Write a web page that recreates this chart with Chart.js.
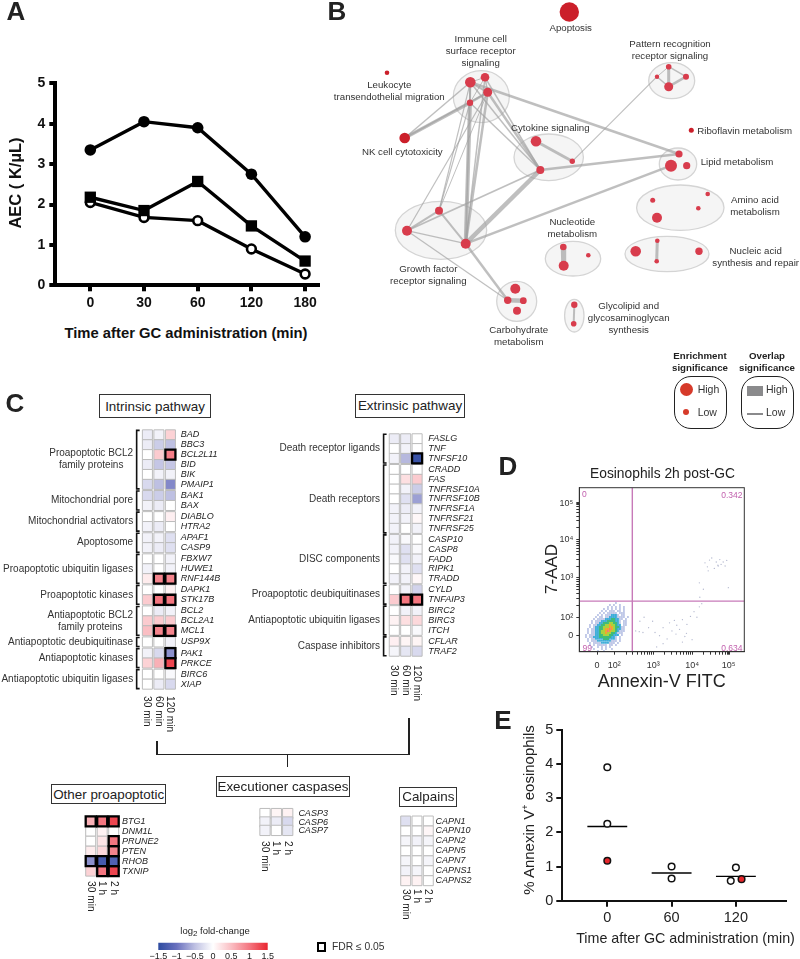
<!DOCTYPE html>
<html><head><meta charset="utf-8">
<script src="https://cdn.jsdelivr.net/npm/chart.js@4/dist/chart.umd.min.js"></script>
<style>
html,body{margin:0;padding:0;background:#fff;width:800px;height:959px;overflow:hidden;font-family:"Liberation Sans",Arial,sans-serif}
canvas{position:absolute;pointer-events:none}
.t{position:absolute;white-space:nowrap;line-height:1;color:#333}
.box{position:absolute;box-sizing:border-box;background:#fff;border:1.5px solid #333;display:flex;align-items:center;justify-content:center;font-size:13.4px;color:#222;white-space:nowrap}
.ln{position:absolute;background:#222}
</style></head><body>
<script>
// ---------- Panel A ----------
const aTimes=['0','30','60','120','180'];
const aecFilled=[3.35,4.05,3.9,2.75,1.2];
const aecSquare=[2.18,1.85,2.57,1.47,0.6];
const aecOpen=[2.05,1.68,1.6,0.9,0.28];
// ---------- Panel B ----------
const nodeX=[569.3,387,470.3,485,487.7,470,404.7,668.7,657,686,668.7,691.3,679,671,686.7,536,572.3,540.3,439,407,465.7,707.7,652.7,698.3,657,563.3,588.3,563.7,635.7,657.3,656.7,699,515.3,507.7,523.3,517,574.3,573.7];
const nodeY=[12,72.7,82.3,77.3,92.3,102.7,138,66.7,76.7,76.7,86.7,130.3,154,165.7,165.7,141.3,161.3,170,210.7,230.7,243.7,194,200.3,208.3,217.7,247,255.3,265.7,251.3,240.7,261.3,251.3,288.7,300.3,300.7,310.7,304.7,323.7];
const nodeR=[9.7,2.3,5.3,4.3,4.5,3.2,5.3,2.8,2.2,3,4.5,2.5,3.6,6,3.6,5.3,2.7,4,4,5,5,2.3,2.5,2.3,5,3.3,2.3,5,5.3,2.3,2.3,3.7,5,3.7,3.4,4,3.2,2.8];
const darkNodes=[0,1,6,11];
const edgeFrom=[2,2,2,4,3,3,6,6,6,2,2,4,5,3,5,2,4,3,2,4,5,4,15,16,17,17,17,20,18,18,19,20,19,33,25,29,36,7,7,7,8,9];
const edgeTo=[3,4,5,5,4,5,5,4,2,12,17,17,17,17,20,20,20,20,18,18,18,19,16,8,12,20,19,13,19,20,20,33,33,34,27,30,37,8,9,10,10,10];
const edgeW=[1,2,2,2.5,1.5,1,3.5,1.5,1.5,2.5,1.5,2.5,1.5,1.5,4,1.5,2.5,1.5,1.2,1,1.2,1.2,3,1.2,2.5,4.5,1.8,2.5,2,2,1.2,2.5,1.2,4.5,5,3,2,1,1.5,3,1.5,2.5];
const clusterX=[481.3,671.7,548.7,678,441,680.3,573,667,516.7,574.3];
const clusterY=[96.7,80.7,157.3,164,230.3,207.7,258.7,254,301.3,315.7];
const clusterRx=[28,23,34.7,18.7,45.7,43.7,27.7,42,20,9.7];
const clusterRy=[26,18,23.3,16,29,22.7,17.3,17.7,20,16.3];
// ---------- Panel C ----------
const intrinsicGenes=['BAD','BBC3','BCL2L11','BID','BIK','PMAIP1','BAK1','BAX','DIABLO','HTRA2','APAF1','CASP9','FBXW7','HUWE1','RNF144B','DAPK1','STK17B','BCL2','BCL2A1','MCL1','USP9X','PAK1','PRKCE','BIRC6','XIAP'];
const intrinsicSizes=[6,2,2,2,3,2,3,1,2,2];
const intrinsicGroups=[['Proapoptotic BCL2','family proteins'],['Mitochondrial pore'],['Mitochondrial activators'],['Apoptosome'],['Proapoptotic ubiquitin ligases'],['Proapoptotic kinases'],['Antiapoptotic BCL2','family proteins'],['Antiapoptotic deubiquitinase'],['Antiapoptotic kinases'],['Antiapoptotic ubiquitin ligases']];
const intrinsic30=[-.15,-.15,0,-.15,0,-.3,-.3,-.1,0,-.1,-.1,-.1,0,-.1,.15,0,.4,0,.4,.5,0,-.1,.35,0,0];
const intrinsic60=[-.1,-.4,.4,-.45,-.1,-.5,-.4,-.15,0,-.15,-.1,-.15,0,0,.9,0,1,-.15,.4,.9,0,-.3,.6,0,-.15];
const intrinsic120=[.35,-.5,.95,-.45,-.1,-.85,-.5,0,.12,0,-.25,-.25,-.1,-.1,.9,.1,1,-.1,.4,.9,-.1,-.8,1.3,-.05,-.3];
const intrinsicFDR=[['BCL2L11',2],['RNF144B',1],['RNF144B',2],['STK17B',1],['STK17B',2],['MCL1',1],['MCL1',2],['PAK1',2],['PRKCE',2]];
const extrinsicGenes=['FASLG','TNF','TNFSF10','CRADD','FAS','TNFRSF10A','TNFRSF10B','TNFRSF1A','TNFRSF21','TNFRSF25','CASP10','CASP8','FADD','RIPK1','TRADD','CYLD','TNFAIP3','BIRC2','BIRC3','ITCH','CFLAR','TRAF2'];
const extrinsicSizes=[3,7,5,2,3,2];
const extrinsicGroups=[['Death receptor ligands'],['Death receptors'],['DISC components'],['Proapoptotic deubiquitinases'],['Antiapoptotic ubiquitin ligases'],['Caspase inhibitors']];
const extrinsic30=[-.15,0,-.1,0,0,0,0,-.1,-.1,-.1,-.1,-.1,-.05,0,-.1,0,.4,0,.1,0,.12,-.08];
const extrinsic60=[-.15,-.1,-.55,0,.25,-.1,-.25,-.15,-.1,0,-.05,-.25,-.25,-.1,-.1,-.1,1,-.1,.25,0,.08,-.2];
const extrinsic120=[0,0,-1.4,0,.4,-.4,-.7,-.1,.06,-.1,0,-.05,-.1,-.25,.06,-.35,1,-.1,.3,-.05,.08,-.3];
const extrinsicFDR=[['TNFSF10',2],['TNFAIP3',1],['TNFAIP3',2]];
const otherGenes=['BTG1','DNM1L','PRUNE2','PTEN','RHOB','TXNIP'];
const other30=[.6,0,0,.15,-.8,.35];
const other1h=[1,.1,.2,.3,-1.3,1];
const other2h=[1.3,0,1,.9,-1.2,1.3];
const otherFDR=[['BTG1',0],['BTG1',1],['BTG1',2],['PRUNE2',2],['PTEN',2],['RHOB',0],['RHOB',1],['RHOB',2],['TXNIP',1],['TXNIP',2]];
const execGenes=['CASP3','CASP6','CASP7'];
const exec30=[0,-.1,-.1];
const exec1h=[.08,-.15,0];
const exec2h=[.1,-.3,-.2];
const calpainGenes=['CAPN1','CAPN10','CAPN2','CAPN5','CAPN7','CAPNS1','CAPNS2'];
const calpain30=[-.25,0,-.08,0,-.08,-.1,.1];
const calpain1h=[0,0,-.1,0,0,-.08,.1];
const calpain2h=[0,.07,-.08,0,-.08,0,0];
const minLabels=['30 min','60 min','120 min'];
const hourLabels=['30 min','1 h','2 h'];
const colorbarTicks=[-1.5,-1,-.5,0,.5,1,1.5];
// ---------- Panel D (axis channels 0-1024) ----------
const flowXTicks=[110,217,459,701,927];
const flowYTicks=[104,212,462,701,926];
const flowTickLabels=['0','10²','10³','10⁴','10⁵'];
const flowGateX=329, flowGateY=316;
const flowDensity=[
"...............1.....",
"............1.1..1...",
"...........1.1.1.1.1.",
".........1.1.1.1.1.1.",
"........1.1.111.11.1.",
".......1.1.11111.111.",
"......1.1.1112221.11.",
".....1.11.1122221111.1",
"....1.1111222332211.1",
"...1.1112223333221.11",
"...1.1122333443321.11",
"..1.11223344544322.11",
"..1.1223344455433211.",
".1.11223345565432211.",
".1.11223445654432111.",
".1.1122344544332111..",
"1.111223344433222.1..",
"1.11222333333221.1...",
".1.1122223332221.1...",
".1.1112222222111.1...",
"..1.11112222111.1....",
"..1.1.11111.11.1.....",
"...1..1.1.1.1........",
"....1...1.1..1.......",
"......1..1..........."];
const flowSparseX=[780,795,808,822,838,850,862,872,880,893,905,915,925,800,860,745,770,748,760,
 376,402,430,455,470,498,520,545,560,575,590,605,622,640,655,668,690,712,730,745,350,372,395,600,640,665,700,520,480];
const flowSparseY=[555,530,572,585,520,560,535,575,545,560,535,570,400,505,540,430,390,340,300,
 190,215,150,190,120,100,150,80,180,130,195,165,140,200,95,170,220,250,215,280,130,125,120,110,60,115,75,50,30];
// ---------- Panel E ----------
const eTimes=['0','60','120'];
const eOpenX=[0,0,1,1,2,1.92];
const eOpenY=[3.9,2.25,1.0,.65,.97,.58];
const eRedX=[0,2.088];
const eRedY=[1.17,.63];
const eMedian=[2.17,.81,.71];

// ---------- helpers ----------
const FF='"Liberation Sans",Arial,sans-serif';
Chart.defaults.font.family=FF;
Chart.defaults.animation=false;
Chart.defaults.responsive=false;
Chart.defaults.events=[];
Chart.defaults.plugins.legend.display=false;
Chart.defaults.plugins.tooltip.enabled=false;
function T(html,x,y,o={}){
  const d=document.createElement('div');d.className='t';d.innerHTML=html;
  const s=d.style;s.left=x+'px';s.top=y+'px';s.fontSize=(o.s||10)+'px';
  if(o.b)s.fontWeight='bold';if(o.i)s.fontStyle='italic';if(o.c)s.color=o.c;
  const ax=o.a==='l'?'0':o.a==='r'?'-100%':'-50%';
  s.transform=`translate(${ax},-50%)`+(o.rot?` rotate(${o.rot}deg)`:'');
  document.body.appendChild(d);return d;
}
function Down(text,x,y,s){ // reads top to bottom, starts at y, centred on x
  const d=document.createElement('div');d.className='t';d.textContent=text;
  const st=d.style;st.left=x+'px';st.top=y+'px';st.fontSize=s+'px';st.transformOrigin='0 0';
  st.transform='rotate(90deg) translateY(-50%)';st.color='#222';document.body.appendChild(d);
}
function Box(text,l,t,r,b){const d=document.createElement('div');d.className='box';d.textContent=text;
  Object.assign(d.style,{left:l+'px',top:t+'px',width:(r-l)+'px',height:(b-t)+'px'});document.body.appendChild(d);}
function Ln(l,t,w,h){const d=document.createElement('div');d.className='ln';
  Object.assign(d.style,{left:l+'px',top:t+'px',width:w+'px',height:h+'px'});document.body.appendChild(d);}
// Places a chart so its chart area is exactly `plot` in page pixels.
function mount(rect,plot,cfg,occ={}){
  const c=document.createElement('canvas');c.width=rect.r-rect.l;c.height=rect.b-rect.t;
  c.style.left=rect.l+'px';c.style.top=rect.t+'px';document.body.appendChild(c);
  cfg.options=cfg.options||{};
  cfg.options.layout={autoPadding:false,padding:{left:occ.left?0:plot.l-rect.l,right:occ.right?0:rect.r-plot.r,top:plot.t-rect.t,bottom:occ.bottom?0:rect.b-plot.b}};
  const sc=cfg.options.scales;
  if(occ.left)sc.y.afterFit=s=>{s.width=plot.l-rect.l};
  if(occ.right)sc.y.afterFit=s=>{s.width=rect.r-plot.r};
  if(occ.bottom)sc.x.afterFit=s=>{s.height=rect.b-plot.b};
  return new Chart(c,cfg);
}
const pts=(xs,ys)=>xs.map((x,i)=>({x,y:ys[i]}));
const fixedTicks=v=>a=>{a.ticks=v.map(value=>({value}))};

// ---------- Panel A ----------
{
  const x0=90.3,dx=53.7,L=55.3,R=320,idx=aTimes.map((_,i)=>i);
  const ds=(data,style,extra)=>Object.assign({data:pts(idx,data),showLine:true,borderColor:'#000',borderWidth:3.4,pointStyle:style,pointBorderColor:'#000',clip:false},extra);
  mount({l:0,t:70,r:320,b:315},{l:L,t:83.3,r:R,b:285.3},{type:'scatter',data:{datasets:[
    ds(aecSquare,'rect',{pointRadius:8,pointBackgroundColor:'#000',pointBorderWidth:0}),
    ds(aecOpen,'circle',{pointRadius:4.4,pointBackgroundColor:'#fff',pointBorderWidth:2.6}),
    ds(aecFilled,'circle',{pointRadius:5.8,pointBackgroundColor:'#000',pointBorderWidth:0})
  ]},options:{scales:{
    x:{type:'linear',min:(L-x0)/dx,max:(R-x0)/dx,afterBuildTicks:fixedTicks(idx),
       border:{color:'#000',width:4},grid:{drawOnChartArea:false,color:'#000',lineWidth:4,tickLength:6},
       ticks:{callback:v=>aTimes[v],color:'#111',padding:3,font:{size:14,weight:'bold'},maxRotation:0,autoSkip:false}},
    y:{min:0,max:5,afterBuildTicks:fixedTicks([0,1,2,3,4,5]),
       border:{color:'#000',width:4},grid:{drawOnChartArea:false,color:'#000',lineWidth:4,tickLength:6},
       ticks:{color:'#111',padding:4,font:{size:14,weight:'bold'}}}
  }}},{left:true,bottom:true});
  T('AEC ( K/µL)',15,183,{s:16.5,b:1,rot:-90,c:'#111'});
  T('Time after GC administration (min)',186,333,{s:14.8,b:1,c:'#111'});
}

// ---------- Panel B ----------
{
  const rect={l:320,t:0,r:800,b:345};
  const clusters={id:'clusters',beforeDatasetsDraw(ch){
    const {ctx,scales:{x,y}}=ch;ctx.save();ctx.fillStyle='#f5f5f5';ctx.strokeStyle='#d4d4d4';ctx.lineWidth=1.3;
    clusterX.forEach((cx,i)=>{ctx.beginPath();
      ctx.ellipse(x.getPixelForValue(cx),y.getPixelForValue(clusterY[i]),clusterRx[i],clusterRy[i],0,0,Math.PI*2);ctx.fill();ctx.stroke();});
    ctx.restore();}};
  const edges=edgeFrom.map((f,i)=>({data:[{x:nodeX[f],y:nodeY[f]},{x:nodeX[edgeTo[i]],y:nodeY[edgeTo[i]]}],showLine:true,pointRadius:0,borderColor:'rgba(160,160,160,.68)',borderWidth:edgeW[i],clip:false}));
  mount(rect,rect,{type:'scatter',data:{datasets:[
    {data:pts(nodeX,nodeY),pointRadius:nodeR,borderWidth:0,pointBorderWidth:0,clip:false,
     pointBackgroundColor:nodeX.map((_,i)=>darkNodes.includes(i)?'#cb1f2a':'#d83c4c')},
    ...edges]},
    options:{scales:{x:{type:'linear',display:false,min:320,max:800},y:{display:false,min:0,max:345,reverse:true}}},
    plugins:[clusters]});
  const L=[[['Apoptosis'],570.7,[28]],[['Immune cell','surface receptor','signaling'],480.7,[39.3,51.3,63]],
   [['Pattern recognition','receptor signaling'],670,[44.3,56]],[['Leukocyte','transendothelial migration'],389.3,[85.3,96.7]],
   [['Cytokine signaling'],550.3,[127.7]],[['Riboflavin metabolism'],744.7,[131.3]],[['NK cell cytotoxicity'],402.3,[151.7]],
   [['Lipid metabolism'],737,[162.3]],[['Amino acid','metabolism'],755,[200.3,212]],[['Nucleotide','metabolism'],572.3,[222.3,234.3]],
   [['Nucleic acid','synthesis and repair'],755.7,[251,262.7]],[['Growth factor','receptor signaling'],428.3,[269,280.7]],
   [['Carbohydrate','metabolism'],518.7,[330,341.7]],[['Glycolipid and','glycosaminoglycan','synthesis'],628.7,[306.3,318,329.7]]];
  L.forEach(([ls,x,ys])=>ls.forEach((s,i)=>T(s,x,ys[i],{s:9.7})));
  [['Enrichment',700,356],['significance',700,368],['Overlap',767,356],['significance',767,368]].forEach(a=>T(a[0],a[1],a[2],{s:9.7,b:1,c:'#222'}));
  // legend shapes
  [[674,726.7],[741,794]].forEach(([l,r])=>{const d=document.createElement('div');
    Object.assign(d.style,{position:'absolute',left:l+'px',top:'376px',width:(r-l)+'px',height:'53px',boxSizing:'border-box',border:'1.5px solid #222',borderRadius:'17px'});document.body.appendChild(d);});
  [[686,389.3,6.5],[686,411.7,3.2]].forEach(([x,y,r])=>{const d=document.createElement('div');
    Object.assign(d.style,{position:'absolute',left:(x-r)+'px',top:(y-r)+'px',width:2*r+'px',height:2*r+'px',borderRadius:'50%',background:'#d63a2a'});document.body.appendChild(d);});
  [[746.7,386.3,16.6,9.4],[746.7,413.3,16.6,2]].forEach(([x,y,w,h])=>{const d=document.createElement('div');
    Object.assign(d.style,{position:'absolute',left:x+'px',top:y+'px',width:w+'px',height:h+'px',background:'#8a8a8c'});document.body.appendChild(d);});
  T('High',697.7,389,{s:10.5,a:'l'});T('Low',697.7,412,{s:10.5,a:'l'});T('High',766,389,{s:10.5,a:'l'});T('Low',766,412,{s:10.5,a:'l'});
}

// ---------- Panel C ----------
const stops=[[-1.5,[45,75,160]],[-1,[105,112,190]],[-.5,[190,192,226]],[0,[255,255,255]],[.5,[250,190,195]],[1,[244,118,128]],[1.5,[233,38,48]]];
function heat(v){v=Math.max(-1.5,Math.min(1.5,v));
  for(let i=1;i<stops.length;i++)if(v<=stops[i][0]){const a=stops[i-1],b=stops[i],t=(v-a[0])/(b[0]-a[0]);
    return 'rgb('+a[1].map((c,k)=>Math.round(c+(b[1][k]-c)*t)).join(',')+')';}
}
function heatmap(o){
  const sizes=o.sizes||[o.genes.length],gap=o.gap||0,rows=[];let p=0;
  sizes.forEach(n=>{for(let i=0;i<n;i++){rows.push(p);p+=1}p+=gap});
  const last=rows[rows.length-1],L=o.x0-o.px/2,R=o.x0+o.px*2.5,Tp=o.y0-o.py/2,B=o.y0+o.py*(last+.5);
  const rect={l:Math.max(0,Math.round(L-(o.left||4))),t:Math.round(Tp-8),r:Math.round(R+62),b:Math.round(B+8)};
  const rad=o.py/Math.SQRT2;
  const cols=o.cols.map((vals,c)=>({data:vals.map((_,r)=>({x:c,y:rows[r]})),pointStyle:'rect',pointRadius:rad,
    pointBackgroundColor:vals.map(heat),pointBorderColor:'#bcbcbc',pointBorderWidth:1,clip:false}));
  const fdr={data:(o.fdr||[]).map(([g,c])=>({x:c,y:rows[o.genes.indexOf(g)]})),pointStyle:'rect',pointRadius:rad,
    pointBackgroundColor:'rgba(0,0,0,0)',pointBorderColor:'#000',pointBorderWidth:2.3,clip:false};
  const brackets={id:'br',afterDraw(ch){ if(!o.groups)return;
    const {ctx,scales:{y},chartArea}=ch,bx=chartArea.left-o.brOff;let i=0;ctx.save();
    sizes.forEach((n,g)=>{const y1=y.getPixelForValue(rows[i])-o.py/2+.5,y2=y.getPixelForValue(rows[i+n-1])+o.py/2-.5;i+=n;
      ctx.strokeStyle='#111';ctx.lineWidth=1.6;ctx.beginPath();ctx.moveTo(bx+3,y1);ctx.lineTo(bx,y1);ctx.lineTo(bx,y2);ctx.lineTo(bx+3,y2);ctx.stroke();
      const ls=o.groups[g];ctx.font='10px '+FF;ctx.fillStyle='#333';ctx.textBaseline='middle';ctx.textAlign='center';
      const w=Math.max(...ls.map(s=>ctx.measureText(s).width)),cx=bx-3.5-w/2,cy=(y1+y2)/2;
      ls.forEach((s,k)=>ctx.fillText(s,cx,cy+(k-(ls.length-1)/2)*12.2));});
    ctx.restore();}};
  mount(rect,{l:L,t:Tp,r:R,b:B},{type:'scatter',data:{datasets:[fdr,...cols]},options:{scales:{
    x:{type:'linear',display:false,min:-.5,max:2.5},
    y:{position:'right',min:-.5,max:last+.5,reverse:true,afterBuildTicks:fixedTicks(rows),border:{display:false},grid:{display:false,drawTicks:false},
       ticks:{callback:(v,i)=>o.genes[i],autoSkip:false,color:'#222',padding:o.pad,font:{size:9,style:'italic'}}}
  }},plugins:[brackets]},{right:true});
  o.labels.forEach((s,c)=>Down(s,o.x0+o.px*c,B+o.lab,10.2));
}
heatmap({genes:intrinsicGenes,sizes:intrinsicSizes,gap:.13,groups:intrinsicGroups,cols:[intrinsic30,intrinsic60,intrinsic120],fdr:intrinsicFDR,
  x0:147.4,y0:433.3,px:11.5,py:10.05,pad:4.5,brOff:5,left:142,labels:minLabels,lab:5});
heatmap({genes:extrinsicGenes,sizes:extrinsicSizes,gap:.13,groups:extrinsicGroups,cols:[extrinsic30,extrinsic60,extrinsic120],fdr:extrinsicFDR,
  x0:394.3,y0:436,px:11.4,py:10.07,pad:5.5,brOff:5,left:150,labels:minLabels,lab:6});
heatmap({genes:otherGenes,cols:[other30,other1h,other2h],fdr:otherFDR,x0:90.7,y0:821.3,px:11.5,py:10,pad:2.5,labels:hourLabels,lab:5});
heatmap({genes:execGenes,cols:[exec30,exec1h,exec2h],x0:265,y0:811.7,px:11.35,py:10.3,pad:5,labels:hourLabels,lab:4});
heatmap({genes:calpainGenes,cols:[calpain30,calpain1h,calpain2h],x0:405.7,y0:821,px:11.3,py:9.95,pad:1.5,labels:hourLabels,lab:3});
Box('Intrinsic pathway',99.3,394.3,210.7,418);
Box('Extrinsic pathway',355,394.3,465,417.7);
Box('Other proapoptotic',51.3,784.3,166,804.3);
Box('Executioner caspases',216,776,350,796.7);
Box('Calpains',399.3,786.7,457.3,806.7);
Ln(408,718,1.5,37);Ln(156.3,753.5,253,1.5);Ln(156.3,741,1.5,14);Ln(286.5,754,1.5,13);
// colour bar
mount({l:140,t:934,r:285,b:959},{l:158.3,t:942.7,r:267.7,b:950},{type:'scatter',data:{datasets:[{
  data:[{x:-1.5,y:.5},{x:1.5,y:.5}],showLine:true,pointRadius:0,borderWidth:7.3,borderCapStyle:'butt',clip:false,
  borderColor(c){const a=c.chart.chartArea;if(!a)return '#888';const g=c.chart.ctx.createLinearGradient(a.left,0,a.right,0);
    stops.forEach(s=>{g.addColorStop((s[0]+1.5)/3,'rgb('+s[1].join(',')+')')});return g;}
}]},options:{scales:{
  x:{type:'linear',min:-1.5,max:1.5,afterBuildTicks:fixedTicks(colorbarTicks),border:{display:false},grid:{display:false,drawTicks:false},
     ticks:{callback:v=>String(v).replace('-','−'),color:'#222',padding:1,autoSkip:false,maxRotation:0,font:{size:9}}},
  y:{display:false,min:0,max:1}}}},{bottom:true});
T('log<sub style="font-size:8px">2</sub> fold-change',215,932,{s:9.5,c:'#222'});
{const d=document.createElement('div');Object.assign(d.style,{position:'absolute',left:'316.5px',top:'942px',width:'9.5px',height:'9.5px',boxSizing:'border-box',border:'2.4px solid #000'});document.body.appendChild(d);}
T('FDR ≤ 0.05',332,947,{s:10.3,a:'l'});

// ---------- Panel D ----------
{
  const plot={l:579.3,t:487.7,r:744.3,b:651.7};
  const levelColor=['','#3c56b6','#2ea6d6','#3fbb7a','#a9d23e','#f2a32c','#e2382c'];
  const levelRadius=[0,.85,1.25,1.5,1.5,1.4,1.2];
  const cellX=41.5,cellStepX=12.4,cellY=304,cellStepY=12.48,dens=[[],[],[],[],[],[],[]];
  flowDensity.forEach((row,r)=>[...row].forEach((ch,c)=>{if(ch!=='.')dens[+ch].push({x:cellX+c*cellStepX,y:cellY-r*cellStepY})}));
  const minor=[];[[217,242],[459,242],[701,242]].forEach(([s,w])=>[2,3,4,5,6,7,8,9].forEach(k=>minor.push(s+Math.log10(k)*w)));
  const frame={id:'frame',afterDraw(ch){const {ctx,chartArea:a}=ch;ctx.save();ctx.strokeStyle='#333';ctx.lineWidth=1;ctx.strokeRect(a.left,a.top,a.right-a.left,a.bottom-a.top);ctx.restore();}};
  const gate=(p)=>({data:p,showLine:true,pointRadius:0,borderColor:'#c77ab9',borderWidth:1.4});
  const lv=dens.map((d,i)=>({data:d,pointStyle:'rect',pointRadius:levelRadius[i],pointBorderWidth:0,pointBackgroundColor:levelColor[i]||'#000'})).slice(1).reverse();
  const tickL=(v,t)=>{const i=t.indexOf(v);return i<0?'':flowTickLabels[i]};
  mount({l:552,t:475,r:760,b:675},plot,{type:'scatter',data:{datasets:[
    gate([{x:flowGateX,y:0},{x:flowGateX,y:1024}]),gate([{x:0,y:flowGateY},{x:1024,y:flowGateY}]),...lv,
    {data:pts(flowSparseX,flowSparseY),pointRadius:.65,pointBorderWidth:0,pointBackgroundColor:'rgba(165,170,198,.85)'}
  ]},options:{scales:{
    x:{type:'linear',min:0,max:1024,afterBuildTicks:fixedTicks([...flowXTicks,...minor]),border:{color:'#333'},
       grid:{drawOnChartArea:false,color:'#333',lineWidth:1,tickLength:3},
       ticks:{callback:v=>tickL(v,flowXTicks),autoSkip:false,maxRotation:0,color:'#333',padding:5,font:{size:9}}},
    y:{min:0,max:1024,afterBuildTicks:fixedTicks([...flowYTicks,...minor]),border:{color:'#333'},
       grid:{drawOnChartArea:false,color:'#333',lineWidth:1,tickLength:3},
       ticks:{callback:v=>tickL(v,flowYTicks),autoSkip:false,color:'#333',padding:3,font:{size:9}}}
  }},plugins:[frame]},{left:true,bottom:true});
  const M='#c261ae';
  T('0',582,494,{s:8.5,a:'l',c:M});T('0.342',742.5,494.5,{s:8.5,a:'r',c:M});T('99',582.5,647.5,{s:8.5,a:'l',c:M});T('0.634',742.5,648,{s:8.5,a:'r',c:M});
  T('Eosinophils 2h post-GC',662.5,474.3,{s:13.8,c:'#222'});
  T('7-AAD',550.7,569.3,{s:17,rot:-90,c:'#222'});
  T('Annexin-V FITC',661.7,680.7,{s:18,c:'#222'});
}

// ---------- Panel E ----------
{
  const x0=607.3,dx=64.3,L=562.3,R=786,idx=eTimes.map((_,i)=>i);
  const med=eMedian.map((m,i)=>({data:[{x:i-.31,y:m},{x:i+.31,y:m}],showLine:true,pointRadius:0,borderColor:'#000',borderWidth:1.4}));
  mount({l:535,t:718,r:800,b:925},{l:L,t:728.3,r:R,b:900.7},{type:'scatter',data:{datasets:[
    {data:pts(eRedX,eRedY),pointRadius:3.3,pointBackgroundColor:'#e6262b',pointBorderColor:'#111',pointBorderWidth:1.5,clip:false},
    {data:pts(eOpenX,eOpenY),pointRadius:3.3,pointBackgroundColor:'#fff',pointBorderColor:'#111',pointBorderWidth:1.5,clip:false},
    ...med]},options:{scales:{
    x:{type:'linear',min:(L-x0)/dx,max:(R-x0)/dx,afterBuildTicks:fixedTicks(idx),border:{color:'#111',width:2},
       grid:{drawOnChartArea:false,color:'#111',lineWidth:2,tickLength:6},
       ticks:{callback:v=>eTimes[v],color:'#222',padding:3,maxRotation:0,autoSkip:false,font:{size:14.5}}},
    y:{min:0,max:5,afterBuildTicks:fixedTicks([0,1,2,3,4,5]),border:{color:'#111',width:2},
       grid:{drawOnChartArea:false,color:'#111',lineWidth:2,tickLength:6},
       ticks:{color:'#222',padding:3,font:{size:14.5}}}
  }}},{left:true,bottom:true});
  T('% Annexin V<sup style="font-size:9px;line-height:0">+</sup> eosinophils',528.3,810,{s:15,rot:-90,c:'#222'});
  T('Time after GC administration (min)',685.5,937.7,{s:14.3,c:'#222'});
}
// panel letters
[['A',16,11],['B',337,11],['C',15,403],['D',508,466],['E',503,720]].forEach(a=>T(a[0],a[1],a[2],{s:26,b:1,c:'#222'}));
</script>
</body></html>
